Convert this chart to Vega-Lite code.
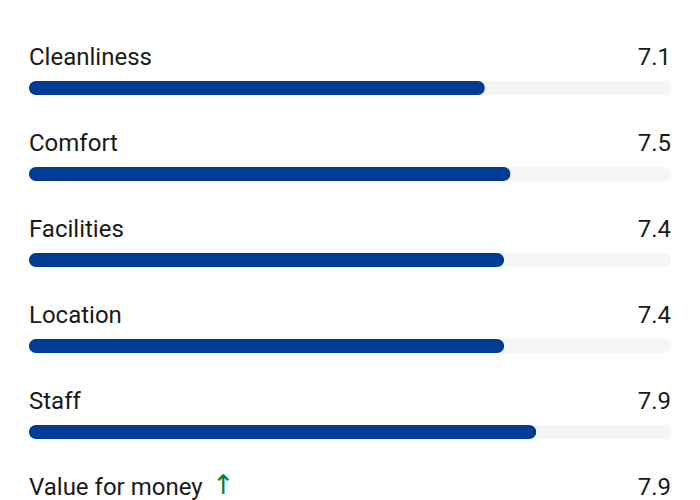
{
  "$schema": "https://vega.github.io/schema/vega-lite/v6.json",
  "width": 642,
  "height": {"step": 86},
  "padding": {"left": 29, "top": 29, "right": 29, "bottom": 0},
  "background": "white",
  "config": {"view": {"stroke": null}, "font": "Roboto"},
  "data": {
    "values": [
      {"category": "Cleanliness", "score": 7.1, "trend": ""},
      {"category": "Comfort", "score": 7.5, "trend": ""},
      {"category": "Facilities", "score": 7.4, "trend": ""},
      {"category": "Location", "score": 7.4, "trend": ""},
      {"category": "Staff", "score": 7.9, "trend": ""},
      {"category": "Value for money", "score": 7.9, "trend": "↑"}
    ]
  },
  "encoding": {
    "y": {
      "field": "category",
      "type": "nominal",
      "sort": null,
      "axis": null,
      "scale": {"paddingInner": 0, "paddingOuter": 0}
    }
  },
  "layer": [
    {
      "mark": {"type": "bar", "color": "#f5f5f5", "size": 14, "cornerRadius": 7, "yOffset": 16},
      "encoding": {
        "x": {"datum": 10, "type": "quantitative", "scale": {"domain": [0, 10]}, "axis": null}
      }
    },
    {
      "mark": {"type": "bar", "color": "#003b95", "size": 14, "cornerRadius": 7, "yOffset": 16},
      "encoding": {
        "x": {"field": "score", "type": "quantitative", "scale": {"domain": [0, 10]}, "axis": null}
      }
    },
    {
      "mark": {"type": "text", "align": "left", "baseline": "middle", "dy": -14, "fontSize": 24, "color": "#1a1a1a"},
      "encoding": {
        "x": {"datum": 0, "type": "quantitative"},
        "text": {"field": "category"}
      }
    },
    {
      "mark": {"type": "text", "align": "right", "baseline": "middle", "dy": -14, "fontSize": 24, "color": "#1a1a1a"},
      "encoding": {
        "x": {"datum": 10, "type": "quantitative"},
        "text": {"field": "score", "format": ".1f"}
      }
    },
    {
      "transform": [{"filter": "datum.trend != ''"}],
      "mark": {"type": "text", "align": "left", "baseline": "middle", "dy": -16, "dx": 183, "font": "DejaVu Sans", "fontSize": 27, "color": "#008234"},
      "encoding": {
        "x": {"datum": 0, "type": "quantitative"},
        "text": {"field": "trend"}
      }
    }
  ]
}
